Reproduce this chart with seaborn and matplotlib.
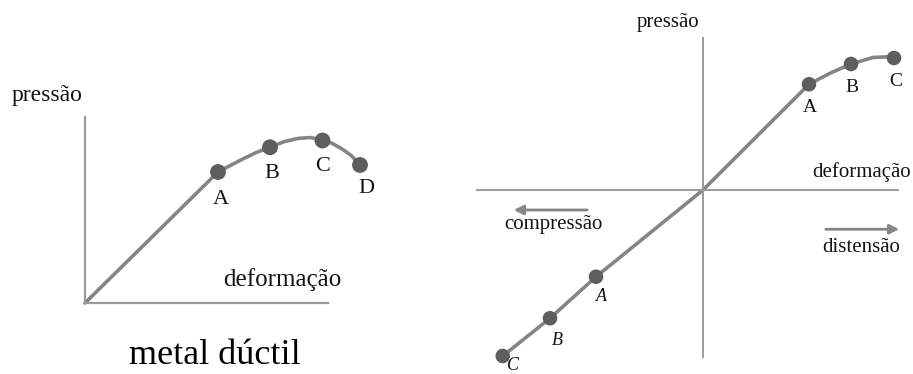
import pandas as pd
import seaborn as sns
import matplotlib.pyplot as plt

# metal ductil (left): deformation vs pressure
ductile_x = [0, 5.32, 5.85, 6.35, 6.85, 7.4, 7.95, 8.5, 9.0, 9.5, 9.9, 10.3, 10.65, 11.0]
ductile_y = [0, 5.24, 5.52, 5.78, 6.02, 6.23, 6.45, 6.58, 6.62, 6.52, 6.38, 6.15, 5.9, 5.52]
ductile_pt_labels = ["A", "B", "C", "D"]
ductile_pt_x = [5.32, 7.4, 9.5, 11.0]
ductile_pt_y = [5.24, 6.23, 6.5, 5.52]

# tension / compression (right)
tc_x = [-8.01, -6.12, -4.28, 0, 4.24, 5.08, 5.92, 6.8, 7.64]
tc_y = [-6.64, -5.13, -3.47, 0, 4.23, 4.67, 5.04, 5.3, 5.34]
tension_labels = ["A", "B", "C"]
tension_x = [4.24, 5.92, 7.64]
tension_y = [4.23, 5.04, 5.28]
compression_labels = ["A", "B", "C"]
compression_x = [-4.28, -6.12, -8.01]
compression_y = [-3.47, -5.13, -6.64]

LINE = "#858585"
DOT = "#5e5e5e"
AXIS = "#9a9a9a"
INK = "#141414"

sns.set_theme(style="white")
plt.rcParams["font.family"] = ["Liberation Serif", "DejaVu Serif"]

fig = plt.figure(figsize=(9.13, 3.74), dpi=100)

# ---- left panel
ax1 = fig.add_axes([85 / 913, 71 / 374, 300 / 913, 190 / 374])
ax1.set_xlim(0, 12)
ax1.set_ylim(0, 7.6)
ax1.set_facecolor("none")
for side in ["top", "right"]:
    ax1.spines[side].set_visible(False)
for side in ["left", "bottom"]:
    ax1.spines[side].set_color(AXIS)
    ax1.spines[side].set_linewidth(1.6)
ax1.spines["left"].set_bounds(0, 7.44)
ax1.spines["bottom"].set_bounds(0, 9.72)
ax1.set_xticks([])
ax1.set_yticks([])

duct = pd.DataFrame({"x": ductile_x, "y": ductile_y})
sns.lineplot(data=duct, x="x", y="y", sort=False, estimator=None, color=LINE,
             linewidth=2.6, ax=ax1, clip_on=False)
pts = pd.DataFrame({"x": ductile_pt_x, "y": ductile_pt_y})
sns.scatterplot(data=pts, x="x", y="y", color=DOT, s=130, edgecolor="none",
                ax=ax1, clip_on=False, zorder=3)
offs = [(0.13, -1.12), (0.07, -1.04), (0.02, -1.05), (0.27, -0.93)]
for lab, x, y, (dx, dy) in zip(ductile_pt_labels, ductile_pt_x, ductile_pt_y, offs):
    ax1.text(x + dx, y + dy, lab, fontsize=16, color=INK, ha="center", va="center")

ax1.text(-1.52, 8.28, "pressão", fontsize=17, color=INK, ha="center", va="center")
ax1.text(7.88, 0.92, "deformação", fontsize=18, color=INK, ha="center", va="center")
ax1.set_xlabel("")
ax1.set_ylabel("")
fig.text(215 / 913, 1 - 355 / 374, "metal dúctil", fontsize=26, color="black",
         ha="center", va="center")

# ---- right panel
ax2 = fig.add_axes([460 / 913, 0, 453 / 913, 1])
ax2.set_xlim(-9.72, 8.4)
ax2.set_ylim(-7.36, 7.6)
ax2.set_facecolor("none")
for side in ["top", "right"]:
    ax2.spines[side].set_visible(False)
for side in ["left", "bottom"]:
    ax2.spines[side].set_color(AXIS)
    ax2.spines[side].set_linewidth(1.4)
    ax2.spines[side].set_position(("data", 0))
ax2.spines["left"].set_bounds(-6.68, 6.08)
ax2.spines["bottom"].set_bounds(-9.04, 7.8)
ax2.set_xticks([])
ax2.set_yticks([])

tc = pd.DataFrame({"x": tc_x, "y": tc_y})
sns.lineplot(data=tc, x="x", y="y", sort=False, estimator=None, color=LINE,
             linewidth=2.6, ax=ax2, clip_on=False)
tpts = pd.DataFrame({"x": tension_x + compression_x, "y": tension_y + compression_y})
sns.scatterplot(data=tpts, x="x", y="y", color=DOT, s=110, edgecolor="none",
                ax=ax2, clip_on=False, zorder=3)
for lab, x, y in zip(tension_labels, tension_x, tension_y):
    ax2.text(x + 0.05, y - 0.95, lab, fontsize=14, color=INK, ha="center", va="center")
c_offs = [(0.2, -0.8), (0.3, -0.9), (0.42, -0.36)]
for lab, x, y, (dx, dy) in zip(compression_labels, compression_x, compression_y, c_offs):
    ax2.text(x + dx, y + dy, lab, fontsize=13, color=INK, ha="center", va="center",
             style="italic")

ax2.text(-1.4, 6.68, "pressão", fontsize=15, color=INK, ha="center", va="center")
ax2.text(6.36, 0.72, "deformação", fontsize=15, color=INK, ha="center", va="center")
ax2.text(-6.0, -1.36, "compressão", fontsize=15, color=INK, ha="center", va="center")
ax2.text(6.32, -2.28, "distensão", fontsize=15, color=INK, ha="center", va="center")
ax2.annotate("", xy=(-7.68, -0.8), xytext=(-4.52, -0.8),
             arrowprops=dict(arrowstyle="-|>", color=LINE, lw=2, mutation_scale=14))
ax2.annotate("", xy=(7.96, -1.57), xytext=(4.8, -1.57),
             arrowprops=dict(arrowstyle="-|>", color=LINE, lw=2, mutation_scale=14))
ax2.set_xlabel("")
ax2.set_ylabel("")

fig.savefig("out.png", dpi=100)
